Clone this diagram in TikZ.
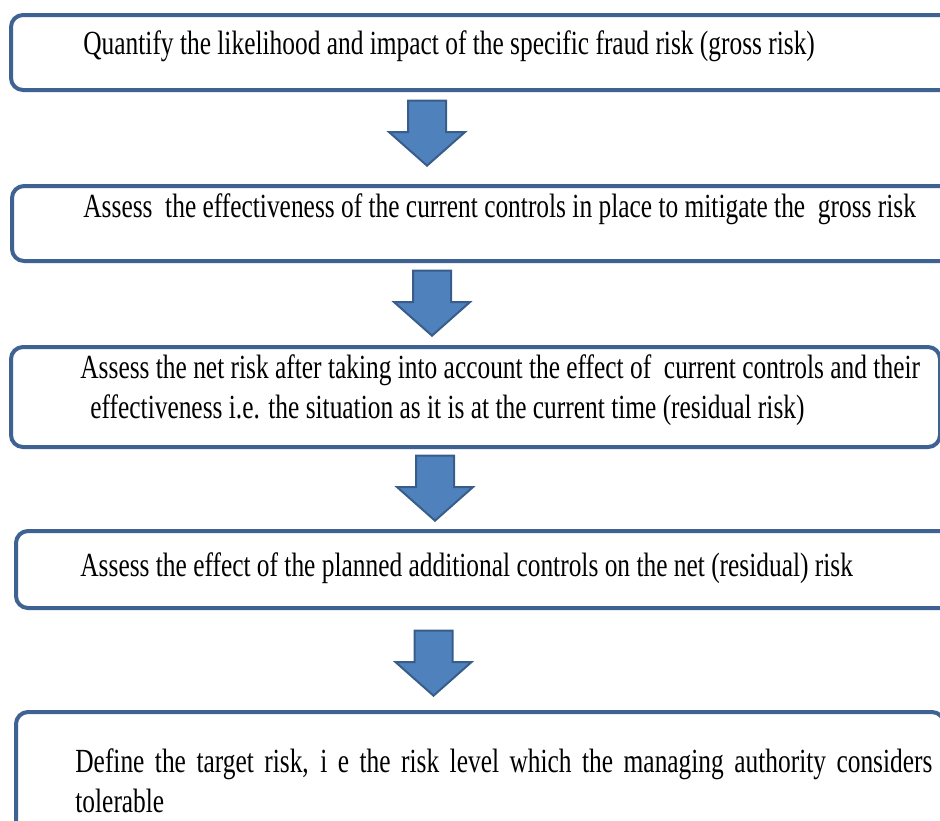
\documentclass[tikz,border=0pt]{standalone}
\usepackage{fontspec}
\setmainfont{Liberation Serif}
\usepackage{graphicx}
\usetikzlibrary{shapes.arrows}
\definecolor{boxblue}{HTML}{3E6393}
\definecolor{arrowblue}{HTML}{4F81BD}
\definecolor{arrowedge}{HTML}{385D8A}
\newcommand{\steplabel}[1]{\scalebox{1}[1.33]{#1}}
\tikzset{stepbox/.style={draw=boxblue, line width=2pt, rounded corners=6pt, fill=white,
    anchor=north west, inner sep=0pt, minimum width=480pt}}
\tikzset{steptext/.style={anchor=west, inner sep=0pt, font=\fontsize{12.7}{15}\selectfont}}
\tikzset{downarrow/.style={single arrow, rotate=-90, anchor=tip, draw=arrowedge, fill=arrowblue,
    line width=1pt, inner xsep=0pt, inner ysep=9pt, minimum height=32.5pt,
    single arrow head extend=9.5pt, single arrow tip angle=97}}

\begin{document}
\begin{tikzpicture}[x=0.5pt, y=-0.5pt]
\useasboundingbox (0,0) rectangle (940,820);
\clip (0,0) rectangle (940,820);

\node[stepbox, minimum height=37.5pt] (b1) at (9,13) {};
\node[stepbox, minimum height=37.5pt] (b2) at (10,184) {};
\node[stepbox, minimum height=50pt, minimum width=464.5pt] (b3) at (9,345) {};
\node[stepbox, minimum height=38.5pt] (b4) at (14,529) {};
\node[stepbox, minimum height=80pt, minimum width=464pt] (b5) at (14,710) {};

\node[steptext] (t1) at (83,46) {\steplabel{Quantify the likelihood and impact of the specific fraud risk (gross risk)}};
\node[steptext] (t2) at (83,209) {\steplabel{Assess~ the effectiveness of the current controls in place to mitigate the~ gross risk}};
\node[steptext] (t3) at (80,390) {\steplabel{\parbox{445pt}{\raggedright
    Assess the net risk after taking into account the effect of~ current controls and their\\
    \hspace*{5pt}effectiveness i.e. the situation as it is at the current time (residual risk)}}};
\node[steptext] (t4) at (80,568) {\steplabel{Assess the effect of the planned additional controls on the net (residual) risk}};
\node[steptext] (t5) at (75,781) {\steplabel{\parbox{428.5pt}{Define the target risk, i e the risk level which the managing authority considers\linebreak
    tolerable}}};

\node[downarrow] (a1) at (427,167) {};
\node[downarrow] (a2) at (432,337) {};
\node[downarrow] (a3) at (435,522) {};
\node[downarrow] (a4) at (433.5,697) {};
\end{tikzpicture}
\end{document}
